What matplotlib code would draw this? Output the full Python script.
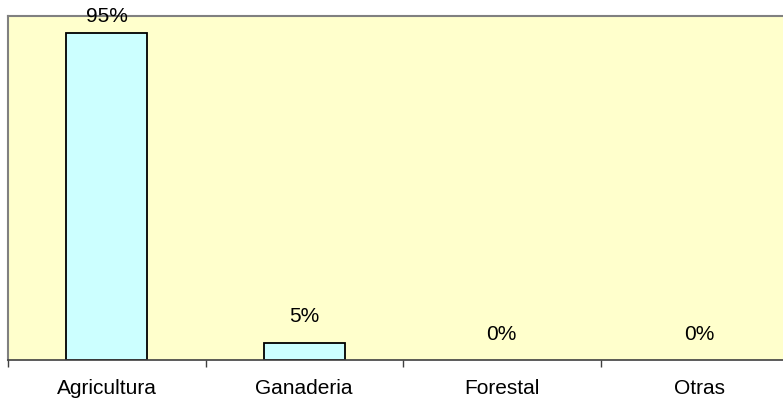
import matplotlib
matplotlib.use("Agg")
import matplotlib.pyplot as plt
import numpy as np

categories = ["Agricultura", "Ganaderia", "Forestal", "Otras"]
values = [95, 5, 0, 0]
labels = ["95%", "5%", "0%", "0%"]

plt.rcParams['font.family'] = ['Liberation Sans', 'DejaVu Sans']

fig = plt.figure(figsize=(7.83, 4.0), dpi=100)
ax = fig.add_axes([8/783, 40/400, 790/783, 344/400])
ax.set_facecolor("#FFFFCC")

x = np.arange(len(categories))
lws = [1.3 if v > 0 else 0 for v in values]
ax.bar(x, values, width=0.41, color="#CCFFFF", edgecolor="black", linewidth=lws, zorder=2)
ax.set_xlim(-0.5, len(categories) - 0.5)
ax.set_ylim(0, 100)

# label offset in data units (~26 px)
px_per_unit = 344 / 100
off = 26 / px_per_unit
for xi, v, lab in zip(x, values, labels):
    y = min(v + off, 100)
    ax.text(xi, y, lab, ha="center", va="center", fontsize=15, color="black",
            zorder=5, clip_on=False)

ax.set_yticks([])
ax.set_xticks(x)
ax.set_xticklabels(categories, fontsize=15)
ax.tick_params(axis="x", which="major", length=0, pad=14)
ax.set_xticks(np.arange(len(categories) + 1) - 0.5, minor=True)
ax.tick_params(axis="x", which="minor", length=5, width=1, color="#404040", direction="out")

for s in ["top", "left"]:
    ax.spines[s].set_color("#808080")
    ax.spines[s].set_linewidth(1.5)
ax.spines["right"].set_visible(False)
ax.spines["bottom"].set_color("#404040")
ax.spines["bottom"].set_linewidth(1.2)

fig.savefig("out.png", dpi=100)
